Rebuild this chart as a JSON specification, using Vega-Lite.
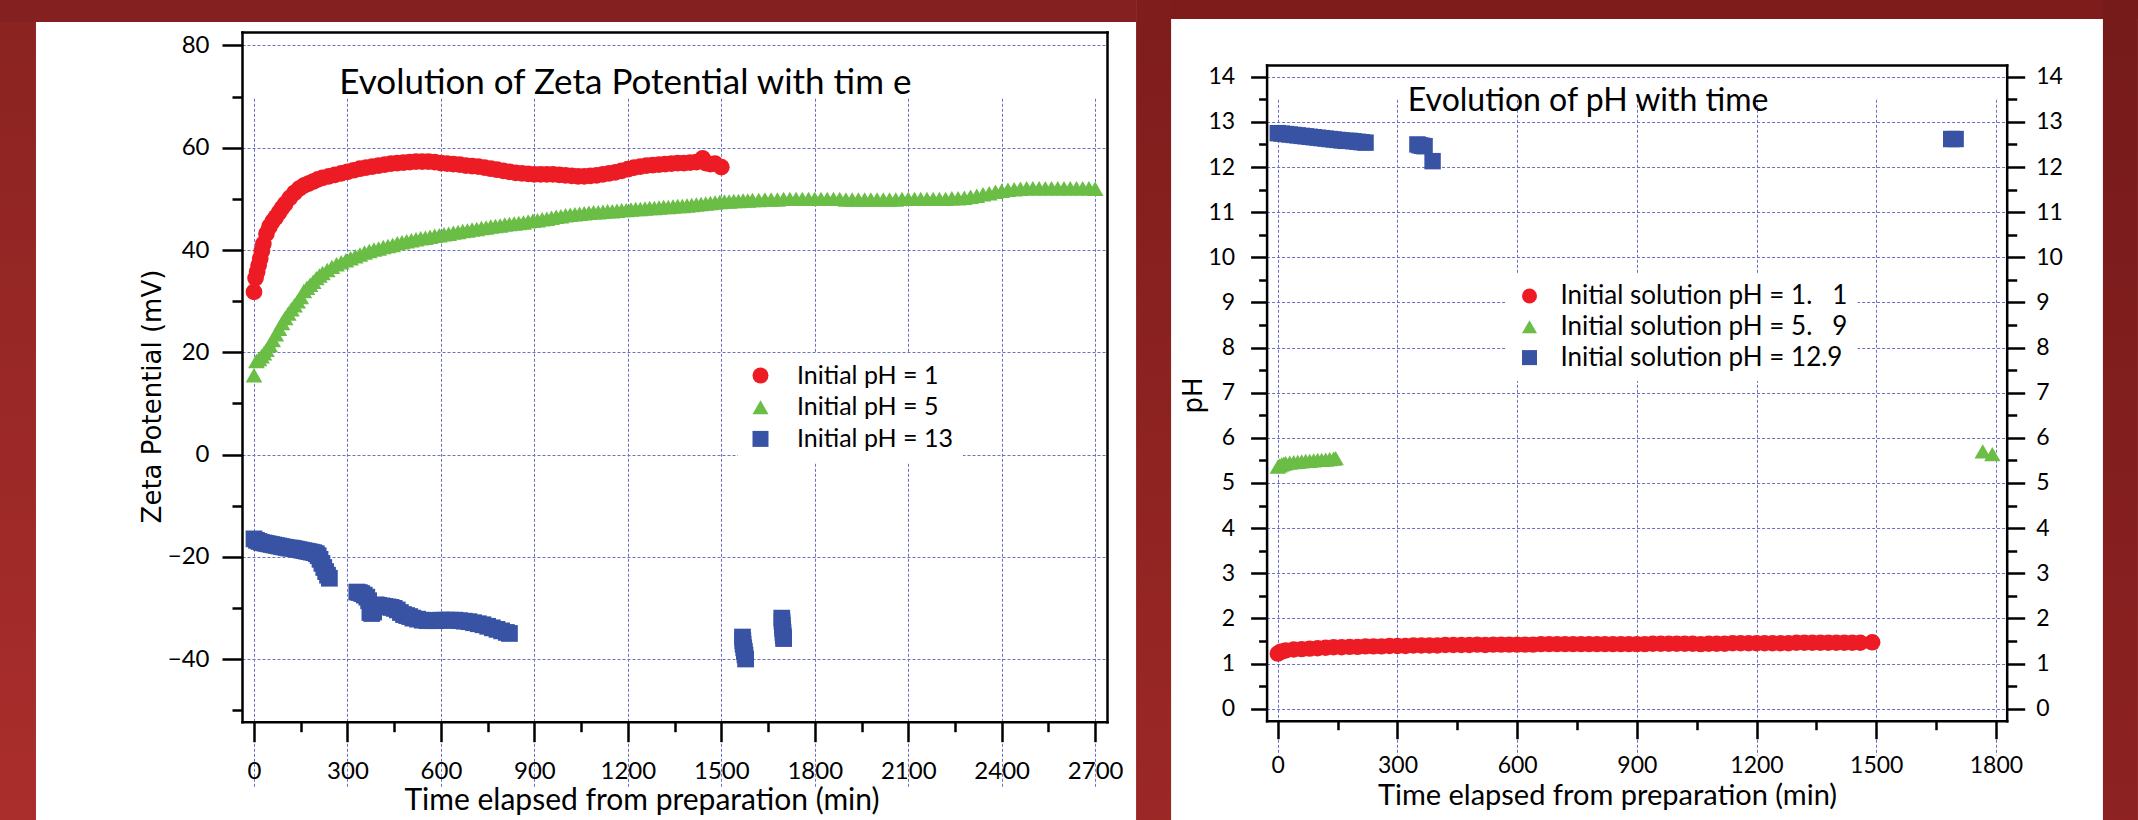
{
  "$schema": "https://vega.github.io/schema/vega-lite/v6.json",
  "background": "white",
  "padding": 0,
  "width": 2138,
  "height": 820,
  "autosize": {"type": "none"},
  "config": {
    "view": {"stroke": null},
    "font": "Lato",
    "axis": {
      "domain": false,
      "domainColor": "black",
      "domainWidth": 2.5,
      "domainCap": "square",
      "tickColor": "black",
      "tickWidth": 2.5,
      "labelColor": "black",
      "labelFont": "Lato",
      "titleColor": "black",
      "titleFontWeight": "normal",
      "titleFont": "Lato",
      "gridColor": "#6b70c4",
      "gridDash": [3, 2],
      "gridWidth": 1,
      "gridOpacity": 1,
      "labelFlush": false,
      "labelOverlap": false,
      "labelBound": false
    }
  },
  "resolve": {
    "scale": {"x": "independent", "y": "independent", "color": "independent", "shape": "independent"},
    "axis": {"x": "independent", "y": "independent"}
  },
  "datasets": {
    "zeta": [
      {"t":0,"zeta":31.8,"series":"Initial pH = 1"},{"t":5,"zeta":34.5,"series":"Initial pH = 1"},{"t":10,"zeta":35.7,"series":"Initial pH = 1"},{"t":15,"zeta":37.0,"series":"Initial pH = 1"},{"t":20,"zeta":38.3,"series":"Initial pH = 1"},{"t":25,"zeta":39.8,"series":"Initial pH = 1"},{"t":30,"zeta":41.2,"series":"Initial pH = 1"},{"t":40,"zeta":43.2,"series":"Initial pH = 1"},{"t":50,"zeta":44.6,"series":"Initial pH = 1"},{"t":60,"zeta":45.6,"series":"Initial pH = 1"},{"t":70,"zeta":46.4,"series":"Initial pH = 1"},{"t":80,"zeta":47.3,"series":"Initial pH = 1"},{"t":90,"zeta":48.2,"series":"Initial pH = 1"},{"t":100,"zeta":49.0,"series":"Initial pH = 1"},{"t":115,"zeta":50.2,"series":"Initial pH = 1"},{"t":130,"zeta":51.2,"series":"Initial pH = 1"},{"t":145,"zeta":52.0,"series":"Initial pH = 1"},{"t":160,"zeta":52.6,"series":"Initial pH = 1"},{"t":175,"zeta":53.0,"series":"Initial pH = 1"},{"t":190,"zeta":53.4,"series":"Initial pH = 1"},{"t":205,"zeta":53.8,"series":"Initial pH = 1"},{"t":220,"zeta":54.1,"series":"Initial pH = 1"},{"t":240,"zeta":54.4,"series":"Initial pH = 1"},{"t":260,"zeta":54.7,"series":"Initial pH = 1"},{"t":280,"zeta":55.0,"series":"Initial pH = 1"},{"t":300,"zeta":55.3,"series":"Initial pH = 1"},{"t":320,"zeta":55.6,"series":"Initial pH = 1"},{"t":340,"zeta":55.9,"series":"Initial pH = 1"},{"t":360,"zeta":56.1,"series":"Initial pH = 1"},{"t":380,"zeta":56.3,"series":"Initial pH = 1"},{"t":400,"zeta":56.5,"series":"Initial pH = 1"},{"t":420,"zeta":56.7,"series":"Initial pH = 1"},{"t":440,"zeta":56.9,"series":"Initial pH = 1"},{"t":460,"zeta":57.0,"series":"Initial pH = 1"},{"t":480,"zeta":57.1,"series":"Initial pH = 1"},{"t":500,"zeta":57.2,"series":"Initial pH = 1"},{"t":520,"zeta":57.3,"series":"Initial pH = 1"},{"t":540,"zeta":57.3,"series":"Initial pH = 1"},{"t":560,"zeta":57.3,"series":"Initial pH = 1"},{"t":580,"zeta":57.2,"series":"Initial pH = 1"},{"t":600,"zeta":57.0,"series":"Initial pH = 1"},{"t":620,"zeta":56.9,"series":"Initial pH = 1"},{"t":640,"zeta":56.8,"series":"Initial pH = 1"},{"t":660,"zeta":56.7,"series":"Initial pH = 1"},{"t":680,"zeta":56.5,"series":"Initial pH = 1"},{"t":700,"zeta":56.4,"series":"Initial pH = 1"},{"t":720,"zeta":56.3,"series":"Initial pH = 1"},{"t":740,"zeta":56.1,"series":"Initial pH = 1"},{"t":760,"zeta":55.9,"series":"Initial pH = 1"},{"t":780,"zeta":55.7,"series":"Initial pH = 1"},{"t":800,"zeta":55.5,"series":"Initial pH = 1"},{"t":820,"zeta":55.3,"series":"Initial pH = 1"},{"t":840,"zeta":55.1,"series":"Initial pH = 1"},{"t":860,"zeta":55.0,"series":"Initial pH = 1"},{"t":880,"zeta":54.9,"series":"Initial pH = 1"},{"t":900,"zeta":54.8,"series":"Initial pH = 1"},{"t":920,"zeta":54.8,"series":"Initial pH = 1"},{"t":940,"zeta":54.8,"series":"Initial pH = 1"},{"t":960,"zeta":54.8,"series":"Initial pH = 1"},{"t":980,"zeta":54.7,"series":"Initial pH = 1"},{"t":1000,"zeta":54.6,"series":"Initial pH = 1"},{"t":1020,"zeta":54.5,"series":"Initial pH = 1"},{"t":1040,"zeta":54.4,"series":"Initial pH = 1"},{"t":1060,"zeta":54.4,"series":"Initial pH = 1"},{"t":1080,"zeta":54.5,"series":"Initial pH = 1"},{"t":1100,"zeta":54.6,"series":"Initial pH = 1"},{"t":1120,"zeta":54.8,"series":"Initial pH = 1"},{"t":1140,"zeta":55.0,"series":"Initial pH = 1"},{"t":1160,"zeta":55.2,"series":"Initial pH = 1"},{"t":1180,"zeta":55.5,"series":"Initial pH = 1"},{"t":1200,"zeta":55.8,"series":"Initial pH = 1"},{"t":1220,"zeta":56.1,"series":"Initial pH = 1"},{"t":1240,"zeta":56.3,"series":"Initial pH = 1"},{"t":1260,"zeta":56.5,"series":"Initial pH = 1"},{"t":1280,"zeta":56.6,"series":"Initial pH = 1"},{"t":1300,"zeta":56.7,"series":"Initial pH = 1"},{"t":1320,"zeta":56.8,"series":"Initial pH = 1"},{"t":1340,"zeta":56.9,"series":"Initial pH = 1"},{"t":1360,"zeta":57.0,"series":"Initial pH = 1"},{"t":1380,"zeta":57.0,"series":"Initial pH = 1"},{"t":1400,"zeta":57.1,"series":"Initial pH = 1"},{"t":1420,"zeta":57.2,"series":"Initial pH = 1"},{"t":1440,"zeta":57.9,"series":"Initial pH = 1"},{"t":1450,"zeta":57.0,"series":"Initial pH = 1"},{"t":1465,"zeta":56.8,"series":"Initial pH = 1"},{"t":1480,"zeta":56.9,"series":"Initial pH = 1"},{"t":1500,"zeta":56.2,"series":"Initial pH = 1"},
      {"t":0,"zeta":15.5,"series":"Initial pH = 5"},{"t":8,"zeta":18.3,"series":"Initial pH = 5"},{"t":16,"zeta":18.7,"series":"Initial pH = 5"},{"t":24,"zeta":19.2,"series":"Initial pH = 5"},{"t":32,"zeta":19.8,"series":"Initial pH = 5"},{"t":40,"zeta":20.5,"series":"Initial pH = 5"},{"t":50,"zeta":21.4,"series":"Initial pH = 5"},{"t":60,"zeta":22.4,"series":"Initial pH = 5"},{"t":70,"zeta":23.5,"series":"Initial pH = 5"},{"t":80,"zeta":24.6,"series":"Initial pH = 5"},{"t":90,"zeta":25.7,"series":"Initial pH = 5"},{"t":100,"zeta":26.7,"series":"Initial pH = 5"},{"t":110,"zeta":27.6,"series":"Initial pH = 5"},{"t":120,"zeta":28.4,"series":"Initial pH = 5"},{"t":130,"zeta":29.2,"series":"Initial pH = 5"},{"t":140,"zeta":30.0,"series":"Initial pH = 5"},{"t":150,"zeta":30.8,"series":"Initial pH = 5"},{"t":160,"zeta":32.0,"series":"Initial pH = 5"},{"t":170,"zeta":32.6,"series":"Initial pH = 5"},{"t":180,"zeta":33.2,"series":"Initial pH = 5"},{"t":190,"zeta":33.8,"series":"Initial pH = 5"},{"t":200,"zeta":34.5,"series":"Initial pH = 5"},{"t":210,"zeta":35.0,"series":"Initial pH = 5"},{"t":220,"zeta":35.5,"series":"Initial pH = 5"},{"t":235,"zeta":36.1,"series":"Initial pH = 5"},{"t":250,"zeta":36.7,"series":"Initial pH = 5"},{"t":265,"zeta":37.2,"series":"Initial pH = 5"},{"t":280,"zeta":37.6,"series":"Initial pH = 5"},{"t":295,"zeta":38.0,"series":"Initial pH = 5"},{"t":310,"zeta":38.4,"series":"Initial pH = 5"},{"t":325,"zeta":38.8,"series":"Initial pH = 5"},{"t":340,"zeta":39.1,"series":"Initial pH = 5"},{"t":355,"zeta":39.5,"series":"Initial pH = 5"},{"t":370,"zeta":39.8,"series":"Initial pH = 5"},{"t":385,"zeta":40.1,"series":"Initial pH = 5"},{"t":400,"zeta":40.3,"series":"Initial pH = 5"},{"t":415,"zeta":40.6,"series":"Initial pH = 5"},{"t":430,"zeta":40.8,"series":"Initial pH = 5"},{"t":445,"zeta":41.0,"series":"Initial pH = 5"},{"t":460,"zeta":41.3,"series":"Initial pH = 5"},{"t":475,"zeta":41.5,"series":"Initial pH = 5"},{"t":490,"zeta":41.7,"series":"Initial pH = 5"},{"t":505,"zeta":41.9,"series":"Initial pH = 5"},{"t":520,"zeta":42.1,"series":"Initial pH = 5"},{"t":535,"zeta":42.3,"series":"Initial pH = 5"},{"t":550,"zeta":42.4,"series":"Initial pH = 5"},{"t":565,"zeta":42.6,"series":"Initial pH = 5"},{"t":580,"zeta":42.8,"series":"Initial pH = 5"},{"t":595,"zeta":42.9,"series":"Initial pH = 5"},{"t":610,"zeta":43.1,"series":"Initial pH = 5"},{"t":625,"zeta":43.2,"series":"Initial pH = 5"},{"t":640,"zeta":43.4,"series":"Initial pH = 5"},{"t":655,"zeta":43.5,"series":"Initial pH = 5"},{"t":670,"zeta":43.7,"series":"Initial pH = 5"},{"t":685,"zeta":43.8,"series":"Initial pH = 5"},{"t":700,"zeta":44.0,"series":"Initial pH = 5"},{"t":715,"zeta":44.1,"series":"Initial pH = 5"},{"t":730,"zeta":44.3,"series":"Initial pH = 5"},{"t":745,"zeta":44.4,"series":"Initial pH = 5"},{"t":760,"zeta":44.6,"series":"Initial pH = 5"},{"t":775,"zeta":44.7,"series":"Initial pH = 5"},{"t":790,"zeta":44.8,"series":"Initial pH = 5"},{"t":805,"zeta":45.0,"series":"Initial pH = 5"},{"t":820,"zeta":45.1,"series":"Initial pH = 5"},{"t":835,"zeta":45.2,"series":"Initial pH = 5"},{"t":850,"zeta":45.3,"series":"Initial pH = 5"},{"t":865,"zeta":45.4,"series":"Initial pH = 5"},{"t":880,"zeta":45.6,"series":"Initial pH = 5"},{"t":895,"zeta":45.7,"series":"Initial pH = 5"},{"t":910,"zeta":45.8,"series":"Initial pH = 5"},{"t":925,"zeta":46.0,"series":"Initial pH = 5"},{"t":940,"zeta":46.1,"series":"Initial pH = 5"},{"t":955,"zeta":46.3,"series":"Initial pH = 5"},{"t":970,"zeta":46.5,"series":"Initial pH = 5"},{"t":985,"zeta":46.6,"series":"Initial pH = 5"},{"t":1000,"zeta":46.8,"series":"Initial pH = 5"},{"t":1015,"zeta":46.9,"series":"Initial pH = 5"},{"t":1030,"zeta":47.0,"series":"Initial pH = 5"},{"t":1045,"zeta":47.1,"series":"Initial pH = 5"},{"t":1060,"zeta":47.2,"series":"Initial pH = 5"},{"t":1075,"zeta":47.3,"series":"Initial pH = 5"},{"t":1090,"zeta":47.4,"series":"Initial pH = 5"},{"t":1105,"zeta":47.4,"series":"Initial pH = 5"},{"t":1120,"zeta":47.5,"series":"Initial pH = 5"},{"t":1135,"zeta":47.6,"series":"Initial pH = 5"},{"t":1150,"zeta":47.6,"series":"Initial pH = 5"},{"t":1165,"zeta":47.7,"series":"Initial pH = 5"},{"t":1180,"zeta":47.8,"series":"Initial pH = 5"},{"t":1195,"zeta":47.8,"series":"Initial pH = 5"},{"t":1210,"zeta":47.9,"series":"Initial pH = 5"},{"t":1225,"zeta":48.0,"series":"Initial pH = 5"},{"t":1240,"zeta":48.0,"series":"Initial pH = 5"},{"t":1255,"zeta":48.1,"series":"Initial pH = 5"},{"t":1270,"zeta":48.2,"series":"Initial pH = 5"},{"t":1285,"zeta":48.2,"series":"Initial pH = 5"},{"t":1300,"zeta":48.3,"series":"Initial pH = 5"},{"t":1315,"zeta":48.4,"series":"Initial pH = 5"},{"t":1330,"zeta":48.4,"series":"Initial pH = 5"},{"t":1345,"zeta":48.5,"series":"Initial pH = 5"},{"t":1360,"zeta":48.6,"series":"Initial pH = 5"},{"t":1375,"zeta":48.6,"series":"Initial pH = 5"},{"t":1390,"zeta":48.7,"series":"Initial pH = 5"},{"t":1405,"zeta":48.8,"series":"Initial pH = 5"},{"t":1420,"zeta":48.9,"series":"Initial pH = 5"},{"t":1435,"zeta":49.0,"series":"Initial pH = 5"},{"t":1450,"zeta":49.1,"series":"Initial pH = 5"},{"t":1465,"zeta":49.2,"series":"Initial pH = 5"},{"t":1480,"zeta":49.3,"series":"Initial pH = 5"},{"t":1495,"zeta":49.4,"series":"Initial pH = 5"},{"t":1510,"zeta":49.5,"series":"Initial pH = 5"},{"t":1525,"zeta":49.5,"series":"Initial pH = 5"},{"t":1540,"zeta":49.6,"series":"Initial pH = 5"},{"t":1555,"zeta":49.6,"series":"Initial pH = 5"},{"t":1570,"zeta":49.7,"series":"Initial pH = 5"},{"t":1585,"zeta":49.7,"series":"Initial pH = 5"},{"t":1600,"zeta":49.8,"series":"Initial pH = 5"},{"t":1620,"zeta":49.8,"series":"Initial pH = 5"},{"t":1640,"zeta":49.9,"series":"Initial pH = 5"},{"t":1660,"zeta":49.9,"series":"Initial pH = 5"},{"t":1680,"zeta":49.9,"series":"Initial pH = 5"},{"t":1700,"zeta":50.0,"series":"Initial pH = 5"},{"t":1720,"zeta":50.0,"series":"Initial pH = 5"},{"t":1740,"zeta":50.0,"series":"Initial pH = 5"},{"t":1760,"zeta":50.0,"series":"Initial pH = 5"},{"t":1780,"zeta":50.0,"series":"Initial pH = 5"},{"t":1800,"zeta":50.0,"series":"Initial pH = 5"},{"t":1820,"zeta":50.0,"series":"Initial pH = 5"},{"t":1840,"zeta":50.0,"series":"Initial pH = 5"},{"t":1860,"zeta":50.0,"series":"Initial pH = 5"},{"t":1880,"zeta":50.0,"series":"Initial pH = 5"},{"t":1900,"zeta":49.9,"series":"Initial pH = 5"},{"t":1920,"zeta":49.9,"series":"Initial pH = 5"},{"t":1940,"zeta":49.9,"series":"Initial pH = 5"},{"t":1960,"zeta":49.9,"series":"Initial pH = 5"},{"t":1980,"zeta":49.9,"series":"Initial pH = 5"},{"t":2000,"zeta":49.9,"series":"Initial pH = 5"},{"t":2020,"zeta":49.9,"series":"Initial pH = 5"},{"t":2040,"zeta":49.9,"series":"Initial pH = 5"},{"t":2060,"zeta":49.9,"series":"Initial pH = 5"},{"t":2080,"zeta":50.0,"series":"Initial pH = 5"},{"t":2100,"zeta":50.0,"series":"Initial pH = 5"},{"t":2120,"zeta":50.0,"series":"Initial pH = 5"},{"t":2140,"zeta":50.0,"series":"Initial pH = 5"},{"t":2160,"zeta":50.0,"series":"Initial pH = 5"},{"t":2180,"zeta":50.0,"series":"Initial pH = 5"},{"t":2200,"zeta":50.0,"series":"Initial pH = 5"},{"t":2220,"zeta":50.0,"series":"Initial pH = 5"},{"t":2240,"zeta":50.1,"series":"Initial pH = 5"},{"t":2260,"zeta":50.1,"series":"Initial pH = 5"},{"t":2280,"zeta":50.2,"series":"Initial pH = 5"},{"t":2300,"zeta":50.4,"series":"Initial pH = 5"},{"t":2320,"zeta":50.6,"series":"Initial pH = 5"},{"t":2340,"zeta":50.9,"series":"Initial pH = 5"},{"t":2360,"zeta":51.1,"series":"Initial pH = 5"},{"t":2380,"zeta":51.4,"series":"Initial pH = 5"},{"t":2400,"zeta":51.6,"series":"Initial pH = 5"},{"t":2420,"zeta":51.8,"series":"Initial pH = 5"},{"t":2440,"zeta":51.9,"series":"Initial pH = 5"},{"t":2460,"zeta":52.0,"series":"Initial pH = 5"},{"t":2480,"zeta":52.1,"series":"Initial pH = 5"},{"t":2500,"zeta":52.1,"series":"Initial pH = 5"},{"t":2520,"zeta":52.1,"series":"Initial pH = 5"},{"t":2540,"zeta":52.1,"series":"Initial pH = 5"},{"t":2560,"zeta":52.1,"series":"Initial pH = 5"},{"t":2580,"zeta":52.1,"series":"Initial pH = 5"},{"t":2600,"zeta":52.1,"series":"Initial pH = 5"},{"t":2620,"zeta":52.1,"series":"Initial pH = 5"},{"t":2640,"zeta":52.1,"series":"Initial pH = 5"},{"t":2660,"zeta":52.1,"series":"Initial pH = 5"},{"t":2680,"zeta":52.1,"series":"Initial pH = 5"},{"t":2700,"zeta":52.0,"series":"Initial pH = 5"},
      {"t":0,"zeta":-16.5,"series":"Initial pH = 13"},{"t":8,"zeta":-16.8,"series":"Initial pH = 13"},{"t":16,"zeta":-17.0,"series":"Initial pH = 13"},{"t":24,"zeta":-17.2,"series":"Initial pH = 13"},{"t":32,"zeta":-17.3,"series":"Initial pH = 13"},{"t":40,"zeta":-17.4,"series":"Initial pH = 13"},{"t":48,"zeta":-17.5,"series":"Initial pH = 13"},{"t":56,"zeta":-17.6,"series":"Initial pH = 13"},{"t":64,"zeta":-17.7,"series":"Initial pH = 13"},{"t":72,"zeta":-17.8,"series":"Initial pH = 13"},{"t":80,"zeta":-17.9,"series":"Initial pH = 13"},{"t":88,"zeta":-18.0,"series":"Initial pH = 13"},{"t":96,"zeta":-18.1,"series":"Initial pH = 13"},{"t":104,"zeta":-18.2,"series":"Initial pH = 13"},{"t":112,"zeta":-18.3,"series":"Initial pH = 13"},{"t":120,"zeta":-18.3,"series":"Initial pH = 13"},{"t":128,"zeta":-18.4,"series":"Initial pH = 13"},{"t":136,"zeta":-18.5,"series":"Initial pH = 13"},{"t":144,"zeta":-18.6,"series":"Initial pH = 13"},{"t":152,"zeta":-18.7,"series":"Initial pH = 13"},{"t":160,"zeta":-18.8,"series":"Initial pH = 13"},{"t":168,"zeta":-18.9,"series":"Initial pH = 13"},{"t":176,"zeta":-19.0,"series":"Initial pH = 13"},{"t":184,"zeta":-19.1,"series":"Initial pH = 13"},{"t":192,"zeta":-19.2,"series":"Initial pH = 13"},{"t":200,"zeta":-19.4,"series":"Initial pH = 13"},{"t":206,"zeta":-19.8,"series":"Initial pH = 13"},{"t":212,"zeta":-20.5,"series":"Initial pH = 13"},{"t":218,"zeta":-21.3,"series":"Initial pH = 13"},{"t":224,"zeta":-22.1,"series":"Initial pH = 13"},{"t":230,"zeta":-22.9,"series":"Initial pH = 13"},{"t":236,"zeta":-23.6,"series":"Initial pH = 13"},{"t":242,"zeta":-24.2,"series":"Initial pH = 13"},
      {"t":330,"zeta":-26.9,"series":"Initial pH = 13"},{"t":338,"zeta":-27.0,"series":"Initial pH = 13"},{"t":346,"zeta":-27.2,"series":"Initial pH = 13"},{"t":354,"zeta":-27.5,"series":"Initial pH = 13"},{"t":362,"zeta":-27.9,"series":"Initial pH = 13"},{"t":368,"zeta":-28.6,"series":"Initial pH = 13"},{"t":372,"zeta":-30.9,"series":"Initial pH = 13"},{"t":378,"zeta":-31.1,"series":"Initial pH = 13"},{"t":384,"zeta":-30.8,"series":"Initial pH = 13"},{"t":392,"zeta":-29.4,"series":"Initial pH = 13"},{"t":400,"zeta":-29.5,"series":"Initial pH = 13"},{"t":410,"zeta":-29.6,"series":"Initial pH = 13"},{"t":420,"zeta":-29.7,"series":"Initial pH = 13"},{"t":430,"zeta":-29.8,"series":"Initial pH = 13"},{"t":440,"zeta":-29.9,"series":"Initial pH = 13"},{"t":450,"zeta":-30.1,"series":"Initial pH = 13"},{"t":460,"zeta":-30.4,"series":"Initial pH = 13"},{"t":470,"zeta":-30.9,"series":"Initial pH = 13"},{"t":480,"zeta":-31.3,"series":"Initial pH = 13"},{"t":490,"zeta":-31.5,"series":"Initial pH = 13"},{"t":500,"zeta":-31.7,"series":"Initial pH = 13"},{"t":510,"zeta":-32.0,"series":"Initial pH = 13"},{"t":525,"zeta":-32.2,"series":"Initial pH = 13"},{"t":540,"zeta":-32.4,"series":"Initial pH = 13"},{"t":555,"zeta":-32.5,"series":"Initial pH = 13"},{"t":570,"zeta":-32.5,"series":"Initial pH = 13"},{"t":585,"zeta":-32.5,"series":"Initial pH = 13"},{"t":600,"zeta":-32.4,"series":"Initial pH = 13"},{"t":615,"zeta":-32.4,"series":"Initial pH = 13"},{"t":630,"zeta":-32.4,"series":"Initial pH = 13"},{"t":645,"zeta":-32.4,"series":"Initial pH = 13"},{"t":660,"zeta":-32.5,"series":"Initial pH = 13"},{"t":675,"zeta":-32.6,"series":"Initial pH = 13"},{"t":690,"zeta":-32.7,"series":"Initial pH = 13"},{"t":705,"zeta":-32.9,"series":"Initial pH = 13"},{"t":720,"zeta":-33.1,"series":"Initial pH = 13"},{"t":735,"zeta":-33.3,"series":"Initial pH = 13"},{"t":750,"zeta":-33.6,"series":"Initial pH = 13"},{"t":765,"zeta":-33.9,"series":"Initial pH = 13"},{"t":780,"zeta":-34.2,"series":"Initial pH = 13"},{"t":795,"zeta":-34.5,"series":"Initial pH = 13"},{"t":810,"zeta":-34.8,"series":"Initial pH = 13"},{"t":820,"zeta":-35.0,"series":"Initial pH = 13"},
      {"t":1568,"zeta":-35.7,"series":"Initial pH = 13"},{"t":1569,"zeta":-36.4,"series":"Initial pH = 13"},{"t":1570,"zeta":-37.1,"series":"Initial pH = 13"},{"t":1572,"zeta":-37.8,"series":"Initial pH = 13"},{"t":1574,"zeta":-38.5,"series":"Initial pH = 13"},{"t":1576,"zeta":-39.2,"series":"Initial pH = 13"},{"t":1578,"zeta":-40.0,"series":"Initial pH = 13"},
      {"t":1694,"zeta":-32.0,"series":"Initial pH = 13"},{"t":1695,"zeta":-32.7,"series":"Initial pH = 13"},{"t":1696,"zeta":-33.4,"series":"Initial pH = 13"},{"t":1697,"zeta":-34.1,"series":"Initial pH = 13"},{"t":1698,"zeta":-34.8,"series":"Initial pH = 13"},{"t":1699,"zeta":-35.5,"series":"Initial pH = 13"},{"t":1700,"zeta":-36.0,"series":"Initial pH = 13"}
    ],
    "ph": [
      {"t":0,"ph":1.22,"series":"Initial solution pH = 1.\u00a0\u00a0\u00a01"},{"t":5,"ph":1.25,"series":"Initial solution pH = 1.\u00a0\u00a0\u00a01"},{"t":10,"ph":1.27,"series":"Initial solution pH = 1.\u00a0\u00a0\u00a01"},{"t":20,"ph":1.29,"series":"Initial solution pH = 1.\u00a0\u00a0\u00a01"},{"t":40,"ph":1.31,"series":"Initial solution pH = 1.\u00a0\u00a0\u00a01"},{"t":60,"ph":1.32,"series":"Initial solution pH = 1.\u00a0\u00a0\u00a01"},{"t":80,"ph":1.33,"series":"Initial solution pH = 1.\u00a0\u00a0\u00a01"},{"t":100,"ph":1.34,"series":"Initial solution pH = 1.\u00a0\u00a0\u00a01"},{"t":120,"ph":1.35,"series":"Initial solution pH = 1.\u00a0\u00a0\u00a01"},{"t":140,"ph":1.36,"series":"Initial solution pH = 1.\u00a0\u00a0\u00a01"},{"t":160,"ph":1.36,"series":"Initial solution pH = 1.\u00a0\u00a0\u00a01"},{"t":180,"ph":1.37,"series":"Initial solution pH = 1.\u00a0\u00a0\u00a01"},{"t":200,"ph":1.37,"series":"Initial solution pH = 1.\u00a0\u00a0\u00a01"},{"t":220,"ph":1.38,"series":"Initial solution pH = 1.\u00a0\u00a0\u00a01"},{"t":240,"ph":1.38,"series":"Initial solution pH = 1.\u00a0\u00a0\u00a01"},{"t":260,"ph":1.38,"series":"Initial solution pH = 1.\u00a0\u00a0\u00a01"},{"t":280,"ph":1.39,"series":"Initial solution pH = 1.\u00a0\u00a0\u00a01"},{"t":300,"ph":1.39,"series":"Initial solution pH = 1.\u00a0\u00a0\u00a01"},{"t":320,"ph":1.39,"series":"Initial solution pH = 1.\u00a0\u00a0\u00a01"},{"t":340,"ph":1.40,"series":"Initial solution pH = 1.\u00a0\u00a0\u00a01"},{"t":360,"ph":1.40,"series":"Initial solution pH = 1.\u00a0\u00a0\u00a01"},{"t":380,"ph":1.40,"series":"Initial solution pH = 1.\u00a0\u00a0\u00a01"},{"t":400,"ph":1.40,"series":"Initial solution pH = 1.\u00a0\u00a0\u00a01"},{"t":420,"ph":1.41,"series":"Initial solution pH = 1.\u00a0\u00a0\u00a01"},{"t":440,"ph":1.41,"series":"Initial solution pH = 1.\u00a0\u00a0\u00a01"},{"t":460,"ph":1.41,"series":"Initial solution pH = 1.\u00a0\u00a0\u00a01"},{"t":480,"ph":1.41,"series":"Initial solution pH = 1.\u00a0\u00a0\u00a01"},{"t":500,"ph":1.42,"series":"Initial solution pH = 1.\u00a0\u00a0\u00a01"},{"t":520,"ph":1.41,"series":"Initial solution pH = 1.\u00a0\u00a0\u00a01"},{"t":540,"ph":1.42,"series":"Initial solution pH = 1.\u00a0\u00a0\u00a01"},{"t":560,"ph":1.42,"series":"Initial solution pH = 1.\u00a0\u00a0\u00a01"},{"t":580,"ph":1.42,"series":"Initial solution pH = 1.\u00a0\u00a0\u00a01"},{"t":600,"ph":1.42,"series":"Initial solution pH = 1.\u00a0\u00a0\u00a01"},{"t":620,"ph":1.42,"series":"Initial solution pH = 1.\u00a0\u00a0\u00a01"},{"t":640,"ph":1.42,"series":"Initial solution pH = 1.\u00a0\u00a0\u00a01"},{"t":660,"ph":1.43,"series":"Initial solution pH = 1.\u00a0\u00a0\u00a01"},{"t":680,"ph":1.43,"series":"Initial solution pH = 1.\u00a0\u00a0\u00a01"},{"t":700,"ph":1.43,"series":"Initial solution pH = 1.\u00a0\u00a0\u00a01"},{"t":720,"ph":1.43,"series":"Initial solution pH = 1.\u00a0\u00a0\u00a01"},{"t":740,"ph":1.43,"series":"Initial solution pH = 1.\u00a0\u00a0\u00a01"},{"t":760,"ph":1.43,"series":"Initial solution pH = 1.\u00a0\u00a0\u00a01"},{"t":780,"ph":1.43,"series":"Initial solution pH = 1.\u00a0\u00a0\u00a01"},{"t":800,"ph":1.43,"series":"Initial solution pH = 1.\u00a0\u00a0\u00a01"},{"t":820,"ph":1.43,"series":"Initial solution pH = 1.\u00a0\u00a0\u00a01"},{"t":840,"ph":1.43,"series":"Initial solution pH = 1.\u00a0\u00a0\u00a01"},{"t":860,"ph":1.43,"series":"Initial solution pH = 1.\u00a0\u00a0\u00a01"},{"t":880,"ph":1.43,"series":"Initial solution pH = 1.\u00a0\u00a0\u00a01"},{"t":900,"ph":1.43,"series":"Initial solution pH = 1.\u00a0\u00a0\u00a01"},{"t":920,"ph":1.43,"series":"Initial solution pH = 1.\u00a0\u00a0\u00a01"},{"t":940,"ph":1.44,"series":"Initial solution pH = 1.\u00a0\u00a0\u00a01"},{"t":960,"ph":1.44,"series":"Initial solution pH = 1.\u00a0\u00a0\u00a01"},{"t":980,"ph":1.44,"series":"Initial solution pH = 1.\u00a0\u00a0\u00a01"},{"t":1000,"ph":1.44,"series":"Initial solution pH = 1.\u00a0\u00a0\u00a01"},{"t":1020,"ph":1.44,"series":"Initial solution pH = 1.\u00a0\u00a0\u00a01"},{"t":1040,"ph":1.44,"series":"Initial solution pH = 1.\u00a0\u00a0\u00a01"},{"t":1060,"ph":1.43,"series":"Initial solution pH = 1.\u00a0\u00a0\u00a01"},{"t":1080,"ph":1.44,"series":"Initial solution pH = 1.\u00a0\u00a0\u00a01"},{"t":1100,"ph":1.44,"series":"Initial solution pH = 1.\u00a0\u00a0\u00a01"},{"t":1120,"ph":1.44,"series":"Initial solution pH = 1.\u00a0\u00a0\u00a01"},{"t":1140,"ph":1.45,"series":"Initial solution pH = 1.\u00a0\u00a0\u00a01"},{"t":1160,"ph":1.45,"series":"Initial solution pH = 1.\u00a0\u00a0\u00a01"},{"t":1180,"ph":1.45,"series":"Initial solution pH = 1.\u00a0\u00a0\u00a01"},{"t":1200,"ph":1.45,"series":"Initial solution pH = 1.\u00a0\u00a0\u00a01"},{"t":1220,"ph":1.45,"series":"Initial solution pH = 1.\u00a0\u00a0\u00a01"},{"t":1240,"ph":1.45,"series":"Initial solution pH = 1.\u00a0\u00a0\u00a01"},{"t":1260,"ph":1.45,"series":"Initial solution pH = 1.\u00a0\u00a0\u00a01"},{"t":1280,"ph":1.45,"series":"Initial solution pH = 1.\u00a0\u00a0\u00a01"},{"t":1300,"ph":1.46,"series":"Initial solution pH = 1.\u00a0\u00a0\u00a01"},{"t":1320,"ph":1.46,"series":"Initial solution pH = 1.\u00a0\u00a0\u00a01"},{"t":1340,"ph":1.46,"series":"Initial solution pH = 1.\u00a0\u00a0\u00a01"},{"t":1360,"ph":1.46,"series":"Initial solution pH = 1.\u00a0\u00a0\u00a01"},{"t":1380,"ph":1.46,"series":"Initial solution pH = 1.\u00a0\u00a0\u00a01"},{"t":1400,"ph":1.46,"series":"Initial solution pH = 1.\u00a0\u00a0\u00a01"},{"t":1420,"ph":1.46,"series":"Initial solution pH = 1.\u00a0\u00a0\u00a01"},{"t":1440,"ph":1.46,"series":"Initial solution pH = 1.\u00a0\u00a0\u00a01"},{"t":1460,"ph":1.46,"series":"Initial solution pH = 1.\u00a0\u00a0\u00a01"},{"t":1490,"ph":1.47,"series":"Initial solution pH = 1.\u00a0\u00a0\u00a01"},
      {"t":0,"ph":5.36,"series":"Initial solution pH = 5.\u00a0\u00a0\u00a09"},{"t":5,"ph":5.39,"series":"Initial solution pH = 5.\u00a0\u00a0\u00a09"},{"t":10,"ph":5.41,"series":"Initial solution pH = 5.\u00a0\u00a0\u00a09"},{"t":15,"ph":5.43,"series":"Initial solution pH = 5.\u00a0\u00a0\u00a09"},{"t":20,"ph":5.44,"series":"Initial solution pH = 5.\u00a0\u00a0\u00a09"},{"t":30,"ph":5.45,"series":"Initial solution pH = 5.\u00a0\u00a0\u00a09"},{"t":40,"ph":5.46,"series":"Initial solution pH = 5.\u00a0\u00a0\u00a09"},{"t":50,"ph":5.47,"series":"Initial solution pH = 5.\u00a0\u00a0\u00a09"},{"t":60,"ph":5.48,"series":"Initial solution pH = 5.\u00a0\u00a0\u00a09"},{"t":70,"ph":5.49,"series":"Initial solution pH = 5.\u00a0\u00a0\u00a09"},{"t":80,"ph":5.49,"series":"Initial solution pH = 5.\u00a0\u00a0\u00a09"},{"t":90,"ph":5.50,"series":"Initial solution pH = 5.\u00a0\u00a0\u00a09"},{"t":100,"ph":5.51,"series":"Initial solution pH = 5.\u00a0\u00a0\u00a09"},{"t":110,"ph":5.51,"series":"Initial solution pH = 5.\u00a0\u00a0\u00a09"},{"t":120,"ph":5.52,"series":"Initial solution pH = 5.\u00a0\u00a0\u00a09"},{"t":130,"ph":5.53,"series":"Initial solution pH = 5.\u00a0\u00a0\u00a09"},{"t":140,"ph":5.54,"series":"Initial solution pH = 5.\u00a0\u00a0\u00a09"},{"t":145,"ph":5.55,"series":"Initial solution pH = 5.\u00a0\u00a0\u00a09"},{"t":1767,"ph":5.70,"series":"Initial solution pH = 5.\u00a0\u00a0\u00a09"},{"t":1791,"ph":5.64,"series":"Initial solution pH = 5.\u00a0\u00a0\u00a09"},
      {"t":0,"ph":12.75,"series":"Initial solution pH = 12.9"},{"t":10,"ph":12.74,"series":"Initial solution pH = 12.9"},{"t":20,"ph":12.73,"series":"Initial solution pH = 12.9"},{"t":30,"ph":12.72,"series":"Initial solution pH = 12.9"},{"t":40,"ph":12.71,"series":"Initial solution pH = 12.9"},{"t":50,"ph":12.70,"series":"Initial solution pH = 12.9"},{"t":60,"ph":12.69,"series":"Initial solution pH = 12.9"},{"t":70,"ph":12.68,"series":"Initial solution pH = 12.9"},{"t":80,"ph":12.67,"series":"Initial solution pH = 12.9"},{"t":90,"ph":12.66,"series":"Initial solution pH = 12.9"},{"t":100,"ph":12.65,"series":"Initial solution pH = 12.9"},{"t":110,"ph":12.64,"series":"Initial solution pH = 12.9"},{"t":120,"ph":12.63,"series":"Initial solution pH = 12.9"},{"t":130,"ph":12.62,"series":"Initial solution pH = 12.9"},{"t":140,"ph":12.61,"series":"Initial solution pH = 12.9"},{"t":150,"ph":12.60,"series":"Initial solution pH = 12.9"},{"t":160,"ph":12.59,"series":"Initial solution pH = 12.9"},{"t":170,"ph":12.58,"series":"Initial solution pH = 12.9"},{"t":180,"ph":12.58,"series":"Initial solution pH = 12.9"},{"t":190,"ph":12.57,"series":"Initial solution pH = 12.9"},{"t":200,"ph":12.56,"series":"Initial solution pH = 12.9"},{"t":210,"ph":12.55,"series":"Initial solution pH = 12.9"},{"t":220,"ph":12.54,"series":"Initial solution pH = 12.9"},
      {"t":350,"ph":12.50,"series":"Initial solution pH = 12.9"},{"t":356,"ph":12.48,"series":"Initial solution pH = 12.9"},{"t":362,"ph":12.47,"series":"Initial solution pH = 12.9"},{"t":368,"ph":12.46,"series":"Initial solution pH = 12.9"},{"t":388,"ph":12.13,"series":"Initial solution pH = 12.9"},
      {"t":1688,"ph":12.62,"series":"Initial solution pH = 12.9"},{"t":1699,"ph":12.62,"series":"Initial solution pH = 12.9"}
    ]
  },
  "layer": [
    {
      "resolve": {"axis": {"x": "independent", "y": "independent"}},
      "layer": [
        {
          "data": {"values": [{}]},
          "mark": {"type": "rect", "color": {"gradient": "linear", "x1": 0, "y1": 0, "x2": 0, "y2": 1, "stops": [{"offset": 0, "color": "#8a2321"}, {"offset": 1, "color": "#ab2e2c"}]}},
          "encoding": {
            "x": {"datum": -815.3, "type": "quantitative", "scale": {"domain": [-38.5, 2738], "range": [242, 1107], "nice": false, "zero": false},
                  "axis": {"orient": "top", "offset": -32, "domain": true, "ticks": false, "labels": false, "grid": false, "title": null}},
            "x2": {"datum": -699.8},
            "y": {"datum": 88.9, "type": "quantitative", "scale": {"domain": [-52.26, 82.64], "range": [721.7, 32], "nice": false, "zero": false},
                  "axis": {"orient": "right", "offset": -1031, "domain": true, "ticks": false, "labels": false, "grid": false, "title": null}},
            "y2": {"datum": -75.4}
          }
        },
        {
          "data": {"values": [{}]},
          "mark": {"type": "rect", "color": "#84201f"},
          "encoding": {
            "x": {"datum": -815.3, "type": "quantitative", "scale": {"domain": [-38.5, 2738], "range": [242, 1107], "nice": false, "zero": false}, "axis": null},
            "x2": {"datum": 2831.3},
            "y": {"datum": 88.9, "type": "quantitative", "scale": {"domain": [-52.26, 82.64], "range": [721.7, 32], "nice": false, "zero": false}, "axis": null},
            "y2": {"datum": 84.6}
          }
        },
        {
          "data": {"values": [{}]},
          "mark": {"type": "rect", "color": {"gradient": "linear", "x1": 0, "y1": 0, "x2": 0, "y2": 1, "stops": [{"offset": 0, "color": "#7e1d1c"}, {"offset": 1, "color": "#9c2826"}]}},
          "encoding": {
            "x": {"datum": 2831.3, "type": "quantitative", "scale": {"domain": [-38.5, 2738], "range": [242, 1107], "nice": false, "zero": false}, "axis": null},
            "x2": {"datum": 2943.7},
            "y": {"datum": 88.9, "type": "quantitative", "scale": {"domain": [-52.26, 82.64], "range": [721.7, 32], "nice": false, "zero": false}, "axis": null},
            "y2": {"datum": -75.4}
          }
        },
        {
          "data": {"name": "zeta"},
          "mark": {"type": "point", "filled": true, "opacity": 1, "size": 280},
          "encoding": {
            "x": {
              "field": "t", "type": "quantitative",
              "scale": {"domain": [-38.5, 2738], "range": [242, 1107], "nice": false, "zero": false},
              "axis": {
                "orient": "bottom", "offset": -98.3, "domain": true,
                "values": [0, 300, 600, 900, 1200, 1500, 1800, 2100, 2400, 2700],
                "format": "d", "tickSize": 20, "grid": true,
                "labelFontSize": 24, "labelPadding": 18,
                "title": "Time elapsed from preparation (min)",
                "titleFontSize": 30, "titleX": 641.5, "titleY": 88, "titleAlign": "center", "titleBaseline": "alphabetic"
              }
            },
            "y": {
              "field": "zeta", "type": "quantitative",
              "scale": {"domain": [-52.26, 82.64], "range": [721.7, 32], "nice": false, "zero": false},
              "axis": {
                "orient": "left", "offset": -242, "domain": true,
                "values": [-40, -20, 0, 20, 40, 60, 80],
                "format": "d", "tickSize": 20, "grid": true,
                "labelFontSize": 24, "labelPadding": 13,
                "title": "Zeta Potential (mV)", "titleFont": "DejaVu Sans", "titleFontSize": 26,
                "titleX": -90, "titleY": 396, "titleAngle": -90, "titleAlign": "center", "titleBaseline": "middle"
              }
            },
            "color": {
              "field": "series", "type": "nominal",
              "scale": {"domain": ["Initial pH = 1", "Initial pH = 5", "Initial pH = 13"], "range": ["#ed1c24", "#6abd45", "#3953a4"]},
              "legend": {
                "orient": "none", "legendX": 738, "legendY": 353, "direction": "vertical",
                "title": null, "fillColor": "white", "padding": 10,
                "labelFont": "Lato", "labelFontSize": 25, "labelColor": "black", "labelOffset": 24, "labelLimit": 0,
                "symbolSize": 256, "rowPadding": 5.7, "symbolStrokeWidth": 0, "symbolOpacity": 1
              }
            },
            "shape": {
              "field": "series", "type": "nominal",
              "scale": {"domain": ["Initial pH = 1", "Initial pH = 5", "Initial pH = 13"], "range": ["circle", "triangle-up", "square"]}
            }
          }
        },
        {
          "data": {"values": [{}]},
          "mark": {"type": "text", "text": "Evolution of Zeta Potential with tim e", "font": "Lato", "fontSize": 35, "align": "left", "baseline": "alphabetic", "color": "black"},
          "encoding": {
            "x": {
              "datum": 274, "type": "quantitative",
              "scale": {"domain": [-38.5, 2738], "range": [242, 1107], "nice": false, "zero": false},
              "axis": {"orient": "bottom", "offset": -98.3, "domain": false, "values": [150, 450, 750, 1050, 1350, 1650, 1950, 2250, 2550], "tickSize": 10, "labels": false, "grid": false, "title": null}
            },
            "y": {
              "datum": 70.51, "type": "quantitative",
              "scale": {"domain": [-52.26, 82.64], "range": [721.7, 32], "nice": false, "zero": false},
              "axis": {"orient": "left", "offset": -242, "domain": false, "values": [-50, -30, -10, 10, 30, 50, 70], "tickSize": 10, "labels": false, "grid": false, "title": null}
            }
          }
        }
      ]
    },
    {
      "resolve": {"axis": {"x": "independent", "y": "independent"}},
      "layer": [
        {
          "data": {"values": [{}]},
          "mark": {"type": "rect", "color": "#7e1c1c"},
          "encoding": {
            "x": {"datum": -267.6, "type": "quantitative", "scale": {"domain": [-28, 1827], "range": [1266.6, 2006.7], "nice": false, "zero": false},
                  "axis": {"orient": "top", "offset": -65, "domain": true, "ticks": false, "labels": false, "grid": false, "title": null}},
            "x2": {"datum": 2156},
            "y": {
              "datum": 15.70, "type": "quantitative",
              "scale": {"domain": [-0.266, 14.26], "range": [720.7, 65], "nice": false, "zero": false},
              "axis": {"orient": "right", "offset": -131.3, "domain": true, "values": [0,1,2,3,4,5,6,7,8,9,10,11,12,13,14], "tickSize": 18, "labelFontSize": 23, "labelPadding": 11, "grid": false, "title": null}
            },
            "y2": {"datum": 15.279}
          }
        },
        {
          "data": {"values": [{}]},
          "mark": {"type": "rect", "color": {"gradient": "linear", "x1": 0, "y1": 0, "x2": 0, "y2": 1, "stops": [{"offset": 0, "color": "#761a1a"}, {"offset": 1, "color": "#8e2222"}]}},
          "encoding": {
            "x": {"datum": 2068.2, "type": "quantitative", "scale": {"domain": [-28, 1827], "range": [1266.6, 2006.7], "nice": false, "zero": false}, "axis": null},
            "x2": {"datum": 2156},
            "y": {
              "datum": 15.70, "type": "quantitative",
              "scale": {"domain": [-0.266, 14.26], "range": [720.7, 65], "nice": false, "zero": false},
              "axis": {"orient": "right", "offset": -131.3, "domain": false, "values": [0.5,1.5,2.5,3.5,4.5,5.5,6.5,7.5,8.5,9.5,10.5,11.5,12.5,13.5], "tickSize": 10, "labels": false, "grid": false, "title": null}
            },
            "y2": {"datum": -2.91}
          }
        },
        {
          "data": {"name": "ph"},
          "mark": {"type": "point", "filled": true, "opacity": 1, "size": 270},
          "encoding": {
            "x": {
              "field": "t", "type": "quantitative",
              "scale": {"domain": [-28, 1827], "range": [1266.6, 2006.7], "nice": false, "zero": false},
              "axis": {
                "orient": "bottom", "offset": -99.3, "domain": true,
                "values": [0, 300, 600, 900, 1200, 1500, 1800],
                "format": "d", "tickSize": 18, "grid": true,
                "labelFontSize": 23, "labelPadding": 15.5,
                "title": "Time elapsed from preparation (min)",
                "titleFontSize": 29, "titleX": 1607, "titleY": 84, "titleAlign": "center", "titleBaseline": "alphabetic"
              }
            },
            "y": {
              "field": "ph", "type": "quantitative",
              "scale": {"domain": [-0.266, 14.26], "range": [720.7, 65], "nice": false, "zero": false},
              "axis": {
                "orient": "left", "offset": -1266.6, "domain": true,
                "values": [0,1,2,3,4,5,6,7,8,9,10,11,12,13,14],
                "format": "d", "tickSize": 16, "grid": true,
                "labelFontSize": 23, "labelPadding": 16,
                "title": "pH", "titleFont": "DejaVu Sans", "titleFontSize": 26,
                "titleX": -73.6, "titleY": 395, "titleAngle": -90, "titleAlign": "center", "titleBaseline": "middle"
              }
            },
            "color": {
              "field": "series", "type": "nominal",
              "scale": {"domain": ["Initial solution pH = 1.\u00a0\u00a0\u00a01", "Initial solution pH = 5.\u00a0\u00a0\u00a09", "Initial solution pH = 12.9"], "range": ["#ed1c24", "#6abd45", "#3953a4"]},
              "legend": {
                "orient": "none", "legendX": 1506.5, "legendY": 273, "direction": "vertical",
                "title": null, "fillColor": "white", "padding": 10,
                "labelFont": "Lato", "labelFontSize": 26, "labelColor": "black", "labelOffset": 18, "labelLimit": 0,
                "symbolSize": 225, "rowPadding": 4.8, "symbolStrokeWidth": 0, "symbolOpacity": 1
              }
            },
            "shape": {
              "field": "series", "type": "nominal",
              "scale": {"domain": ["Initial solution pH = 1.\u00a0\u00a0\u00a01", "Initial solution pH = 5.\u00a0\u00a0\u00a09", "Initial solution pH = 12.9"], "range": ["circle", "triangle-up", "square"]}
            }
          }
        },
        {
          "data": {"values": [{}]},
          "mark": {"type": "text", "text": "Evolution of pH with time", "font": "Lato", "fontSize": 32, "align": "left", "baseline": "alphabetic", "color": "black"},
          "encoding": {
            "x": {
              "datum": 326, "type": "quantitative",
              "scale": {"domain": [-28, 1827], "range": [1266.6, 2006.7], "nice": false, "zero": false},
              "axis": {"orient": "bottom", "offset": -99.3, "domain": false, "values": [150, 450, 750, 1050, 1350, 1650], "tickSize": 9, "labels": false, "grid": false, "title": null}
            },
            "y": {
              "datum": 13.23, "type": "quantitative",
              "scale": {"domain": [-0.266, 14.26], "range": [720.7, 65], "nice": false, "zero": false},
              "axis": {"orient": "left", "offset": -1266.6, "domain": false, "values": [0.5,1.5,2.5,3.5,4.5,5.5,6.5,7.5,8.5,9.5,10.5,11.5,12.5,13.5], "tickSize": 8, "labels": false, "grid": false, "title": null}
            }
          }
        }
      ]
    }
  ]
}
